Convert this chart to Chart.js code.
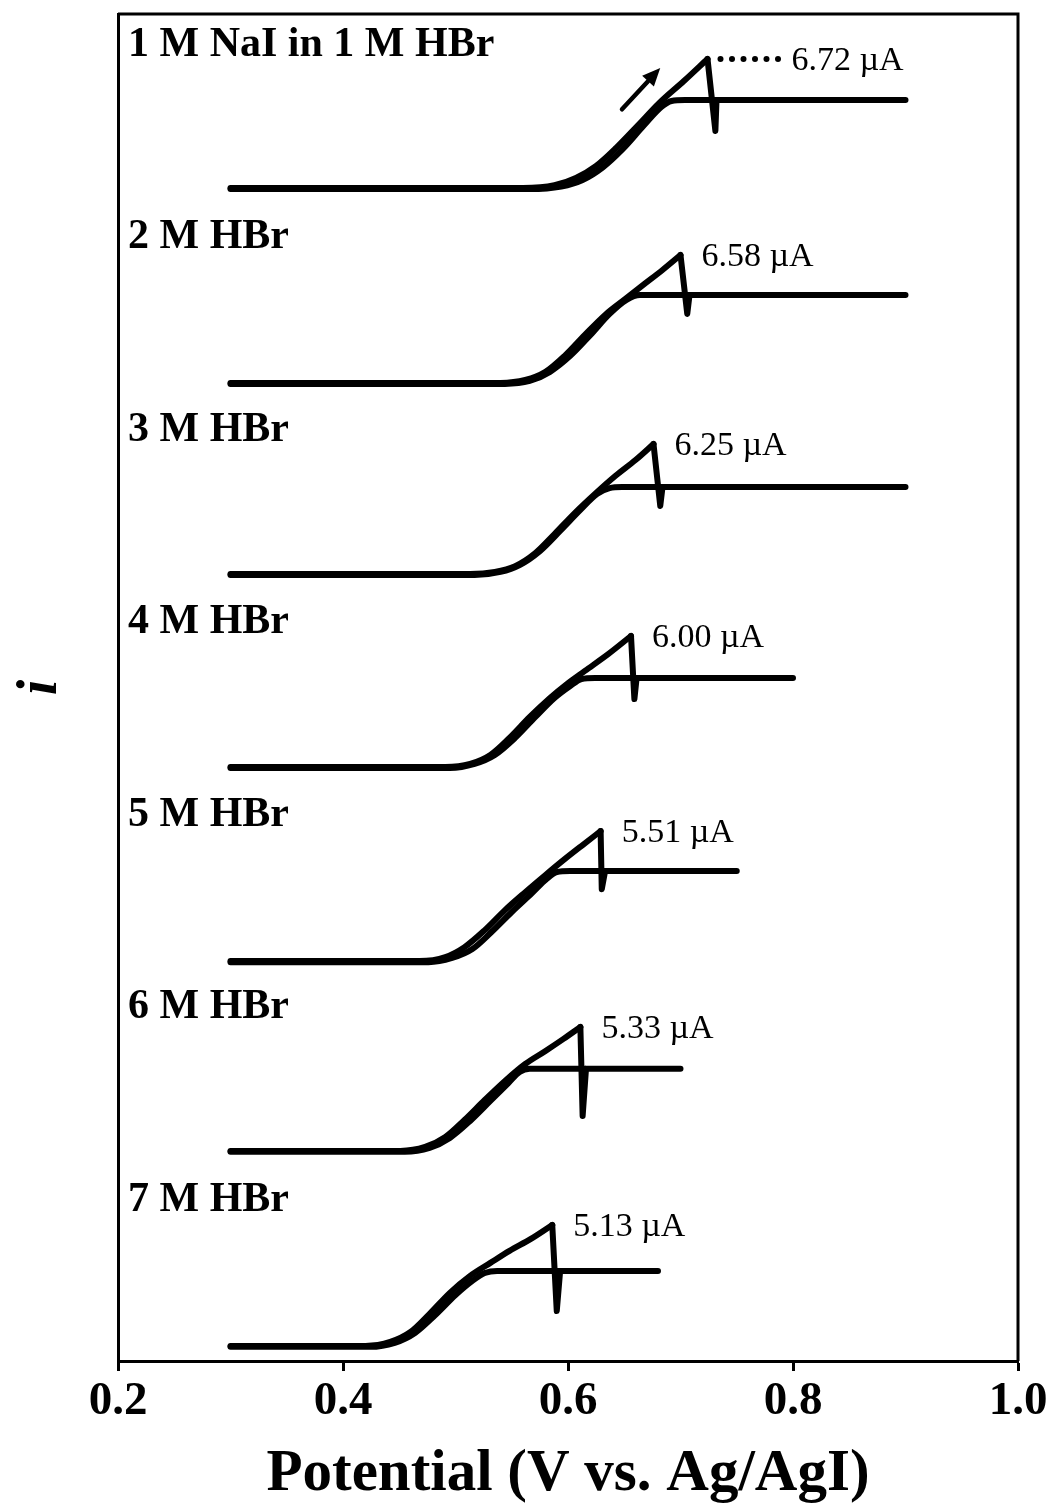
<!DOCTYPE html>
<html>
<head>
<meta charset="utf-8">
<title>Linear sweep voltammograms in HBr</title>
<script src="https://cdn.jsdelivr.net/npm/chart.js@4.4.1/dist/chart.umd.min.js"></script>
<style>
  html, body { margin: 0; padding: 0; background: #fff; }
  canvas { display: block; }
</style>
</head>
<body>
<canvas id="cv" width="1055" height="1512"></canvas>
<script>
// ---- data -------------------------------------------------------------
const potentialTicks = [0.2, 0.4, 0.6, 0.8, 1.0];               // V vs. Ag/AgI

const solutionLabels = ['1 M NaI in 1 M HBr', '2 M HBr', '3 M HBr', '4 M HBr',
                        '5 M HBr', '6 M HBr', '7 M HBr'];

// anodic peak of each trace (V, µA)
const peakPotential = [0.724, 0.700, 0.676, 0.656, 0.629, 0.611, 0.586];
const peakCurrent   = [6.72, 6.58, 6.25, 6.00, 5.51, 5.33, 5.13];

// current window (µA) of each stacked trace
const panelLow  = [-0.96, -0.82, -0.83, -0.77, -0.64, -0.76, -0.64];
const panelHigh = [ 9.06,  9.08,  8.42,  8.05,  7.52,  7.52,  7.52];

// forward sweep up to the peak (potential V, current µA)
const forwardE = [
  [0.300, 0.560, 0.588, 0.607, 0.625, 0.643, 0.662, 0.681, 0.703],
  [0.300, 0.540, 0.562, 0.580, 0.597, 0.615, 0.633, 0.651, 0.668, 0.684],
  [0.300, 0.513, 0.535, 0.553, 0.571, 0.588, 0.606, 0.624, 0.642, 0.660],
  [0.300, 0.491, 0.513, 0.531, 0.548, 0.566, 0.584, 0.599, 0.615, 0.636],
  [0.300, 0.468, 0.491, 0.508, 0.526, 0.544, 0.562, 0.580, 0.597, 0.613],
  [0.300, 0.451, 0.473, 0.491, 0.508, 0.526, 0.544, 0.562, 0.580, 0.596],
  [0.300, 0.420, 0.442, 0.460, 0.477, 0.495, 0.513, 0.531, 0.548, 0.567]
];
const forwardI = [
  [0, 0, 0.14, 0.52, 1.15, 2.10, 3.25, 4.42, 5.57],
  [0, 0, 0.15, 0.57, 1.39, 2.47, 3.50, 4.32, 5.09, 5.81],
  [0, 0, 0.10, 0.38, 1.01, 1.92, 2.93, 3.85, 4.71, 5.48],
  [0, 0, 0.14, 0.55, 1.33, 2.29, 3.16, 3.80, 4.40, 5.18],
  [0, 0, 0.17, 0.59, 1.31, 2.16, 2.92, 3.65, 4.32, 4.92],
  [0, 0, 0.17, 0.60, 1.33, 2.19, 3.01, 3.74, 4.30, 4.82],
  [0, 0, 0.17, 0.59, 1.36, 2.25, 2.97, 3.52, 4.03, 4.54]
];

// sudden drop after the peak: spike minimum, then back on the plateau
const dropE = [
  [0.731, 0.732], [0.706, 0.708], [0.682, 0.684], [0.659, 0.661],
  [0.630, 0.633], [0.613, 0.616], [0.590, 0.593]
];
const dropI = [
  [2.97, 4.58], [3.55, 4.52], [3.27, 4.18], [3.11, 4.08],
  [3.05, 3.82], [1.50, 3.53], [1.48, 3.18]
];

// return sweep, listed from low to high potential (limiting-current plateau)
const reverseE = [
  [0.300, 0.566, 0.594, 0.613, 0.631, 0.649, 0.667, 0.683, 0.692, 0.704, 0.900],
  [0.300, 0.544, 0.566, 0.584, 0.602, 0.620, 0.637, 0.652, 0.664, 0.677, 0.900],
  [0.300, 0.517, 0.540, 0.557, 0.575, 0.593, 0.611, 0.626, 0.637, 0.648, 0.900],
  [0.300, 0.495, 0.517, 0.535, 0.553, 0.571, 0.588, 0.602, 0.612, 0.624, 0.800],
  [0.300, 0.476, 0.497, 0.515, 0.532, 0.550, 0.568, 0.581, 0.590, 0.602, 0.750],
  [0.300, 0.455, 0.477, 0.495, 0.513, 0.531, 0.547, 0.557, 0.566, 0.700],
  [0.300, 0.424, 0.446, 0.464, 0.482, 0.500, 0.515, 0.526, 0.537, 0.680]
];
const reverseI = [
  [-0.05, -0.05, 0.08, 0.42, 1.08, 2.05, 3.23, 4.22, 4.53, 4.58, 4.58],
  [-0.05, -0.05, 0.10, 0.57, 1.39, 2.47, 3.55, 4.27, 4.52, 4.52, 4.52],
  [-0.05, -0.05, 0.10, 0.43, 1.10, 2.07, 3.08, 3.85, 4.13, 4.18, 4.18],
  [-0.05, -0.05, 0.14, 0.55, 1.33, 2.29, 3.16, 3.71, 4.03, 4.08, 4.08],
  [-0.05, -0.05, 0.13, 0.51, 1.23, 2.08, 2.88, 3.48, 3.77, 3.82, 3.82],
  [-0.04, -0.04, 0.13, 0.56, 1.29, 2.15, 2.92, 3.40, 3.53, 3.53],
  [-0.04, -0.04, 0.13, 0.55, 1.31, 2.16, 2.76, 3.09, 3.18, 3.18]
];

// ---- build the stacked traces -----------------------------------------
const SERIF = '"Liberation Serif", "Times New Roman", Times, serif';
const N = solutionLabels.length;

// each trace lives in its own horizontal band of height 1 on the y scale
function bandValue(k, i) {
  return (N - 1 - k) + (i - panelLow[k]) / (panelHigh[k] - panelLow[k]);
}
function toPoints(k, es, is) {
  return es.map((e, j) => ({ x: e, y: bandValue(k, is[j]) }));
}

const lineStyle = {
  showLine: true,
  borderColor: '#000',
  backgroundColor: '#000',
  borderWidth: 6,
  pointRadius: 0,
  pointHoverRadius: 0,
  fill: false,
  borderCapStyle: 'round',
  borderJoinStyle: 'round'
};

const datasets = [];
for (let k = 0; k < N; k++) {
  const peak = { x: peakPotential[k], y: bandValue(k, peakCurrent[k]) };
  datasets.push(Object.assign({}, lineStyle, {
    label: solutionLabels[k] + ' forward',
    data: toPoints(k, forwardE[k], forwardI[k]).concat([peak]),
    cubicInterpolationMode: 'monotone'
  }));
  datasets.push(Object.assign({}, lineStyle, {
    label: solutionLabels[k] + ' drop',
    data: [peak].concat(toPoints(k, dropE[k], dropI[k])),
    tension: 0
  }));
  datasets.push(Object.assign({}, lineStyle, {
    label: solutionLabels[k] + ' reverse',
    data: toPoints(k, reverseE[k], reverseI[k]),
    cubicInterpolationMode: 'monotone'
  }));
}

// ---- text, leader dots, sweep arrow and frame --------------------------
const annotate = {
  id: 'annotate',
  afterDatasetsDraw(chart, args, opts) {
    const { ctx, chartArea: a } = chart;
    const xs = chart.scales.x, ys = chart.scales.y;
    ctx.save();
    ctx.fillStyle = '#000';
    ctx.strokeStyle = '#000';

    // solution labels at the top-left of each band
    ctx.font = 'bold 42px ' + SERIF;
    ctx.textAlign = 'left';
    ctx.textBaseline = 'alphabetic';
    for (let k = 0; k < N; k++) {
      ctx.fillText(solutionLabels[k], a.left + 10, ys.getPixelForValue(N - k) + 42);
    }

    // peak current labels
    ctx.font = '34px ' + SERIF;
    ctx.textBaseline = 'middle';
    for (let k = 0; k < N; k++) {
      const px = xs.getPixelForValue(peakPotential[k]);
      const py = ys.getPixelForValue(bandValue(k, peakCurrent[k]));
      const gap = k === 0 ? 84 : 21;
      ctx.fillText(peakCurrent[k].toFixed(2) + ' \u00B5A', px + gap, py + 2);
      if (k === 0) {
        // dotted leader from the peak to its label
        for (let x = px + 13; x <= px + 72; x += 11.5) {
          ctx.beginPath();
          ctx.arc(x, py, 3, 0, Math.PI * 2);
          ctx.fill();
        }
      }
    }

    // sweep-direction arrow beside the first trace
    const t = opts.arrow;
    const x0 = xs.getPixelForValue(t.from[0]), y0 = ys.getPixelForValue(bandValue(0, t.from[1]));
    const x1 = xs.getPixelForValue(t.to[0]),   y1 = ys.getPixelForValue(bandValue(0, t.to[1]));
    const ang = Math.atan2(y1 - y0, x1 - x0);
    const headLen = 18, headHalf = 8;
    const bx = x1 - headLen * Math.cos(ang), by = y1 - headLen * Math.sin(ang);
    ctx.lineWidth = 4.5;
    ctx.lineCap = 'round';
    ctx.beginPath();
    ctx.moveTo(x0, y0);
    ctx.lineTo(bx, by);
    ctx.stroke();
    ctx.beginPath();
    ctx.moveTo(x1, y1);
    ctx.lineTo(bx + headHalf * Math.sin(ang), by - headHalf * Math.cos(ang));
    ctx.lineTo(bx - headHalf * Math.sin(ang), by + headHalf * Math.cos(ang));
    ctx.closePath();
    ctx.fill();

    // top and right edges of the frame
    ctx.lineWidth = 3;
    ctx.lineCap = 'butt';
    ctx.beginPath();
    ctx.moveTo(a.left, a.top);
    ctx.lineTo(a.right, a.top);
    ctx.lineTo(a.right, a.bottom);
    ctx.stroke();
    ctx.restore();
  }
};

new Chart(document.getElementById('cv'), {
  type: 'scatter',
  data: { datasets },
  plugins: [annotate],
  options: {
    responsive: false,
    animation: false,
    events: [],
    layout: { padding: { top: 14, right: 37, left: 0, bottom: 0 } },
    plugins: {
      legend: { display: false },
      tooltip: { enabled: false },
      annotate: { arrow: { from: [0.648, 4.1], to: [0.682, 6.25] } }
    },
    scales: {
      x: {
        type: 'linear',
        min: 0.2,
        max: 1.0,
        afterBuildTicks: s => { s.ticks = potentialTicks.map(v => ({ value: v })); },
        afterFit: s => { s.height = 151; },
        ticks: {
          callback: v => Number(v).toFixed(1),
          color: '#000',
          font: { family: SERIF, size: 47, weight: 'bold' },
          padding: 3,
          maxRotation: 0,
          autoSkip: false
        },
        grid: {
          display: true,
          drawOnChartArea: false,
          drawTicks: true,
          tickLength: 10,
          tickWidth: 3,
          tickColor: '#000',
          color: '#000'
        },
        border: { display: true, color: '#000', width: 3 },
        title: {
          display: true,
          text: 'Potential (V vs. Ag/AgI)',
          color: '#000',
          font: { family: SERIF, size: 59, weight: 'bold' },
          padding: { top: 0, bottom: 2 }
        }
      },
      y: {
        type: 'linear',
        min: 0,
        max: N,
        afterFit: s => { s.width = 118; },
        ticks: { display: false },
        grid: { display: false },
        border: { display: true, color: '#000', width: 3 },
        title: {
          display: true,
          text: 'i',
          color: '#000',
          font: { family: SERIF, size: 56, weight: 'bold', style: 'italic' },
          padding: { top: 8, bottom: 0 }
        }
      }
    }
  }
});
</script>
</body>
</html>
